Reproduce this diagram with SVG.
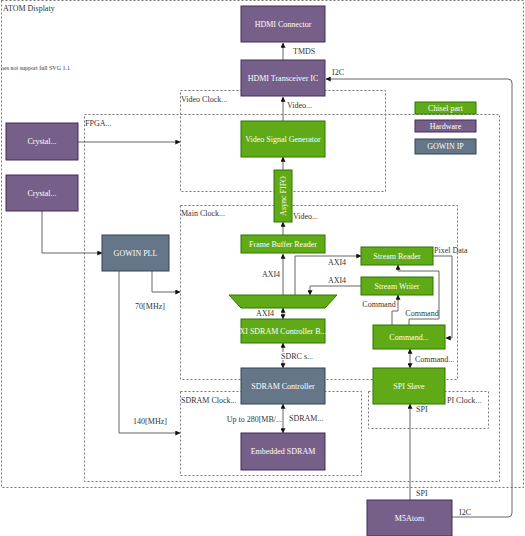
<svg xmlns="http://www.w3.org/2000/svg" width="525" height="536" viewBox="0 0 525 536">
<defs>
<style>
text{font-family:"Liberation Serif","Noto Sans CJK SC",serif;font-size:8px;fill:#333}
.grp{fill:none;stroke:#777;stroke-width:1;stroke-dasharray:2 2}
.chisel{fill:#60a917;stroke:#2d7600}
.hw{fill:#76608a;stroke:#432d57}
.ip{fill:#647687;stroke:#314354}
.nt{fill:#fff;text-anchor:middle}
.e{fill:none;stroke:#666;stroke-width:1}
.lbl{paint-order:stroke;stroke:#fff;stroke-width:2px}
.mid{text-anchor:middle}
.end{text-anchor:end}
</style>
<marker id="a" viewBox="0 0 8 8" refX="7.5" refY="4" markerWidth="5" markerHeight="5" orient="auto" markerUnits="userSpaceOnUse"><path d="M0,0L8,4L0,8z" fill="#111"/></marker>
<marker id="s" viewBox="0 0 8 8" refX="0.5" refY="4" markerWidth="5" markerHeight="5" orient="auto" markerUnits="userSpaceOnUse"><path d="M8,0L0,4L8,8z" fill="#111"/></marker>
</defs>

<g id="groups">
<g id="atom-display"><rect class="grp" x="1.5" y="0.5" width="522" height="487"/><text x="3" y="11">ATOM Displaty</text><text x="1" y="70" style="font-size:6px">oes not support full SVG 1.1</text></g>
<g id="fpga"><rect class="grp" x="84.5" y="114.5" width="415" height="367"/><text x="85" y="126">FPGA...</text></g>
<g id="video-clock"><rect class="grp" x="180.5" y="90.5" width="205" height="101"/><text x="181" y="102">Video Clock...</text></g>
<g id="main-clock"><rect class="grp" x="180.5" y="205.5" width="277" height="174"/><text x="181" y="216">Main Clock...</text></g>
<g id="sdram-clock"><rect class="grp" x="180.5" y="391.5" width="181" height="84"/><text x="181" y="403">SDRAM Clock...</text></g>
<g id="spi-clock"><rect class="grp" x="368.5" y="391.5" width="120" height="37"/><text x="447" y="403">PI Clock...</text></g>
</g>

<g id="connectors">
<path class="e" d="M283,60V43" marker-end="url(#a)"/>
<path class="e" d="M283,121V97" marker-end="url(#a)"/>
<path class="e" d="M283,170V157" marker-end="url(#a)"/>
<path class="e" d="M283,235V222" marker-end="url(#a)"/>
<path class="e" d="M283,295V254" marker-end="url(#a)"/>
<path class="e" d="M295,295V256H361" marker-end="url(#a)"/>
<path class="e" d="M361,286H310V295" marker-end="url(#a)"/>
<path class="e" d="M283,308V319" marker-start="url(#s)" marker-end="url(#a)"/>
<path class="e" d="M283,343V368" marker-start="url(#s)" marker-end="url(#a)"/>
<path class="e" d="M283,404V433" marker-start="url(#s)" marker-end="url(#a)"/>
<path class="e" d="M392,325V311H398V295" marker-end="url(#a)"/>
<path class="e" d="M409,325V319H439V271H398V265" marker-end="url(#a)"/>
<path class="e" d="M433,256H452V338H446" marker-end="url(#a)"/>
<path class="e" d="M410,349V368" marker-start="url(#s)" marker-end="url(#a)"/>
<path class="e" d="M410,500V404" marker-end="url(#a)"/>
<path class="e" d="M452,517H508Q512,517 512,513V83Q512,79 508,79H326" marker-end="url(#a)"/>
<path class="e" d="M78,142H180" marker-end="url(#a)"/>
<path class="e" d="M42,211V253H102" marker-end="url(#a)"/>
<path class="e" d="M152,271V292H180" marker-end="url(#a)"/>
<path class="e" d="M119,271V433H180" marker-end="url(#a)"/>
<text x="293" y="54">TMDS</text>
<text x="338" y="74.5" class="mid">I2C</text>
<text x="287" y="108">Video...</text>
<text x="293" y="219">Video...</text>
<text x="271" y="276.5" class="mid">AXI4</text>
<text x="337" y="264.5" class="mid">AXI4</text>
<text x="337" y="282.5" class="mid">AXI4</text>
<text x="265" y="315.5" class="mid">AXI4</text>
<text x="281" y="358.5" class="lbl">SDRC s...</text>
<text x="282" y="421.5" class="end">Up to 280[MB/...</text>
<text x="289" y="420.5">SDRAM...</text>
<text x="379" y="306.5" class="mid">Command</text>
<text x="422" y="315.5" class="mid">Command</text>
<text x="434" y="252.5">Pixel Data</text>
<text x="415" y="361.5">Command...</text>
<text x="416" y="411.5">SPI</text>
<text x="416" y="495.5">SPI</text>
<text x="459" y="514.5">I2C</text>
<text x="150" y="309" class="mid">70[MHz]</text>
<text x="150" y="423.5" class="mid">140[MHz]</text>
</g>

<g id="hdmi-connector"><rect class="hw" x="241" y="6" width="84" height="36"/><text class="nt" x="283" y="26.5">HDMI Connector</text></g>
<g id="hdmi-transceiver"><rect class="hw" x="241" y="60" width="84" height="36"/><text class="nt" x="283" y="80.5">HDMI Transceiver IC</text></g>
<g id="video-signal-generator"><rect class="chisel" x="241" y="121" width="84" height="36"/><text class="nt" x="283" y="141.5">Video Signal Generator</text></g>
<g id="async-fifo"><rect class="chisel" x="274" y="170" width="18" height="52"/><text class="nt" transform="translate(285.5,196) rotate(-90)">Async FIFO</text></g>
<g id="frame-buffer-reader"><rect class="chisel" x="241" y="235" width="84" height="18"/><text class="nt" x="283" y="246.5">Frame Buffer Reader</text></g>
<g id="stream-reader"><rect class="chisel" x="361" y="247" width="72" height="18"/><text class="nt" x="397" y="258.5">Stream Reader</text></g>
<g id="stream-writer"><rect class="chisel" x="361" y="277" width="72" height="18"/><text class="nt" x="397" y="288.5">Stream Writer</text></g>
<g id="axi-interconnect"><polygon class="chisel" points="229,295 337,295 325,308 241,308"/></g>
<g id="axi-sdram-controller"><rect class="chisel" x="241" y="319" width="84" height="24"/><text class="nt" x="283" y="333.5">XI SDRAM Controller B...</text></g>
<g id="sdram-controller"><rect class="ip" x="241" y="368" width="84" height="36"/><text class="nt" x="283" y="388.5">SDRAM Controller</text></g>
<g id="embedded-sdram"><rect class="hw" x="241" y="433" width="84" height="37"/><text class="nt" x="283" y="454">Embedded SDRAM</text></g>
<g id="command"><rect class="chisel" x="373" y="325" width="72" height="24"/><text class="nt" x="409" y="339.5">Command...</text></g>
<g id="spi-slave"><rect class="chisel" x="373" y="368" width="72" height="36"/><text class="nt" x="409" y="388.5">SPI Slave</text></g>
<g id="m5atom"><rect class="hw" x="367" y="500" width="85" height="36"/><text class="nt" x="409.5" y="520.5">M5Atom</text></g>
<g id="crystal-1"><rect class="hw" x="6" y="123" width="72" height="37"/><text class="nt" x="42" y="144">Crystal...</text></g>
<g id="crystal-2"><rect class="hw" x="6" y="175" width="72" height="36"/><text class="nt" x="42" y="195.5">Crystal...</text></g>
<g id="gowin-pll"><rect class="ip" x="102" y="235" width="67" height="36"/><text class="nt" x="135.5" y="255.5">GOWIN PLL</text></g>
<g id="legend-chisel"><rect class="chisel" x="415" y="102" width="61" height="12"/><text class="nt" x="445.5" y="110.5">Chisel part</text></g>
<g id="legend-hardware"><rect class="hw" x="415" y="120" width="61" height="12"/><text class="nt" x="445.5" y="128.5">Hardware</text></g>
<g id="legend-gowin"><rect class="ip" x="415" y="139" width="61" height="15"/><text class="nt" x="445.5" y="149">GOWIN IP</text></g>
</svg>
